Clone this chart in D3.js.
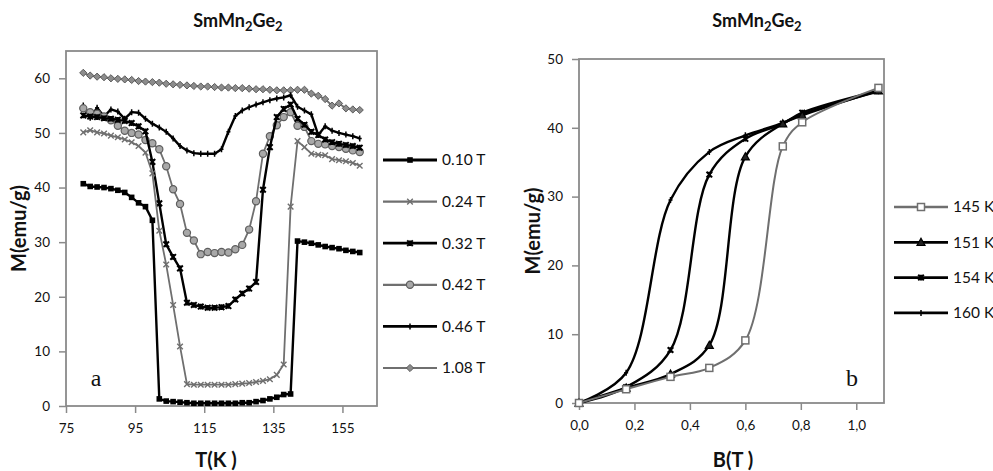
<!DOCTYPE html>
<html>
<head>
<meta charset="utf-8">
<script src="https://cdn.jsdelivr.net/npm/d3@7"></script>
<style>
body { margin: 0; background: #fff; }
svg { font-family: Lato, "Open Sans", sans-serif; }
</style>
</head>
<body>
<svg id="chart" width="993" height="471"></svg>
<script>
'use strict';

// panel a: M(T) at several fields
var temps = [80, 82, 84, 86, 88, 90, 92, 94, 96, 98, 100, 102, 104, 106, 108, 110, 112, 114, 116, 118, 120,
	122, 124, 126, 128, 130, 132, 134, 136, 138, 140, 142, 144, 146, 148, 150, 152, 154, 156, 158, 160];
var m010 = [40.7, 40.2, 40.1, 40.0, 39.8, 39.5, 39.1, 38.2, 37.2, 36.5, 34.0,
	1.3, 0.9, 0.8, 0.7, 0.6, 0.5, 0.5, 0.5, 0.5, 0.5, 0.5, 0.5, 0.6, 0.6, 0.8, 1.0, 1.3, 1.6, 2.1, 2.2,
	30.2, 30.0, 29.8, 29.5, 29.2, 29.0, 28.8, 28.5, 28.3, 28.1];
var m024 = [50.1, 50.5, 50.1, 49.9, 49.5, 49.2, 48.8, 48.3, 47.6, 46.4,
	42.6, 32.1, 25.9, 18.5, 10.9, 4.0,
	3.9, 3.9, 3.9, 3.9, 3.9, 3.9, 4.0, 4.1, 4.2, 4.4, 4.6, 4.9, 5.7, 7.6,
	36.5, 48.5, 47.4, 46.2, 46.0, 45.9, 45.2, 45.0, 44.8, 44.5, 44.0];
var m032 = [53.2, 53.0, 52.9, 52.7, 52.6, 52.4, 52.2, 51.8, 51.2, 50.3,
	44.7, 37.1, 29.6, 27.3, 25.2, 18.9, 18.5, 18.2, 18.0, 18.0, 18.1, 18.3, 19.5, 20.6, 21.5, 22.7,
	39.6, 47.4, 52.9, 54.4, 55.2, 52.6, 51.5, 50.2, 49.6, 48.8, 48.3, 48.0, 47.8, 47.6, 47.3];
var m042 = [54.5, 53.8, 53.5, 53.0, 52.3, 51.3, 50.4, 50.0, 49.7, 48.7,
	48.1, 47.0, 43.9, 39.7, 37.0, 31.7, 30.3, 27.8, 28.2, 28.0, 28.2, 28.1, 28.7, 29.5, 32.3, 37.5,
	46.2, 49.4, 51.4, 52.9, 53.8, 51.3, 51.1, 48.5, 48.0, 47.9, 47.6, 47.4, 47.1, 46.8, 46.5];
var m046 = [55.0, 52.8, 54.6, 53.0, 54.3, 53.9, 52.6, 53.8, 53.7, 52.6,
	51.7, 51.0, 50.2, 49.0, 47.6, 46.8, 46.3, 46.2, 46.2, 46.2, 47.0,
	50.2, 53.1, 54.1, 54.7, 55.2, 55.6, 56.0, 56.3, 56.5, 56.9,
	54.8, 54.1, 53.4, 49.6, 51.2, 50.4, 50.0, 49.7, 49.4, 49.0];
var m108 = [61.0, 60.5, 60.3, 60.2, 60.0, 59.9, 59.8, 59.7, 59.5, 59.4, 59.3, 59.2, 59.0, 58.9, 58.8,
	58.7, 58.6, 58.5, 58.5, 58.4, 58.3, 58.3, 58.2, 58.2, 58.1, 58.0, 58.0, 57.9, 57.8, 57.8,
	57.8, 57.9, 57.9, 57.2, 56.8, 56.2, 55.0, 55.4, 54.5, 54.3, 54.2];
var fieldLabels = ['0.10 T', '0.24 T', '0.32 T', '0.42 T', '0.46 T', '1.08 T'];
var tTicks = [75, 95, 115, 135, 155];
var mTicksA = [0, 10, 20, 30, 40, 50, 60];

// panel b: M(B) isotherms
var fields = [0, 0.17, 0.33, 0.47, 0.60, 0.735, 0.805, 1.08];
var k145 = [0, 2.0, 3.8, 5.1, 9.1, 37.3, 40.8, 45.8];
var k151 = [0, 2.2, 4.2, 8.4, 35.8, 40.6, 41.8, 45.4];
var k154 = [0, 2.3, 7.7, 33.2, 38.4, 40.6, 42.2, 45.4];
var k160 = [0, 4.4, 29.5, 36.5, 38.9, 40.7, 42.0, 45.3];
var tempLabels = ['145 K', '151 K', '154 K', '160 K'];
var bTicks = [0, 0.2, 0.4, 0.6, 0.8, 1.0];
var mTicksB = [0, 10, 20, 30, 40, 50];

var BLACK = '#000', GRAY = '#6f6f6f', FRAME = '#8a8a8a';

var svg = d3.select('#chart');

function marker(g, type, x, y, color)
{
	var s;
	if (type == 'square') {
		g.append('rect').attr('x', x - 2.8).attr('y', y - 2.8).attr('width', 5.6).attr('height', 5.6)
			.attr('fill', color).attr('stroke', 'none');
	} else if (type == 'opensquare') {
		g.append('rect').attr('x', x - 3.5).attr('y', y - 3.5).attr('width', 7).attr('height', 7)
			.attr('fill', '#fff').attr('stroke', color).attr('stroke-width', 1.5);
	} else if (type == 'x' || type == 'star') {
		s = 2.8;
		g.append('path').attr('d', 'M' + (x - s) + ',' + (y - s) + 'L' + (x + s) + ',' + (y + s)
			+ 'M' + (x - s) + ',' + (y + s) + 'L' + (x + s) + ',' + (y - s)
			+ (type == 'star' ? 'M' + x + ',' + (y - s) + 'L' + x + ',' + (y + s) : ''))
			.attr('stroke', color).attr('stroke-width', type == 'star' ? 2 : 1.4).attr('fill', 'none');
	} else if (type == 'plus') {
		g.append('path').attr('d', 'M' + x + ',' + (y - 3) + 'L' + x + ',' + (y + 3)
			+ 'M' + (x - 2) + ',' + y + 'L' + (x + 2) + ',' + y)
			.attr('stroke', color).attr('stroke-width', 1.5);
	} else if (type == 'circle') {
		g.append('circle').attr('cx', x).attr('cy', y).attr('r', 3.6)
			.attr('fill', '#a8a8a8').attr('stroke', '#5e5e5e').attr('stroke-width', 1.2);
	} else if (type == 'diamond') {
		s = 3.6;
		g.append('path').attr('d', 'M' + x + ',' + (y - s) + 'L' + (x + s) + ',' + y + 'L' + x + ',' + (y + s) + 'L' + (x - s) + ',' + y + 'Z')
			.attr('fill', '#8c8c8c').attr('stroke', '#5a5a5a').attr('stroke-width', 1);
	} else if (type == 'triangle') {
		s = 4;
		g.append('path').attr('d', 'M' + x + ',' + (y - s) + 'L' + (x + s) + ',' + (y + s * 0.8) + 'L' + (x - s) + ',' + (y + s * 0.8) + 'Z')
			.attr('fill', '#222').attr('stroke', color).attr('stroke-width', 1.2);
	}
}

function title(cx)
{
	var t = svg.append('text').attr('x', cx).attr('y', 27).attr('text-anchor', 'middle')
		.attr('font-size', 18).attr('font-weight', 'bold').attr('fill', '#111');
	t.append('tspan').text('SmMn');
	t.append('tspan').attr('dy', 4).attr('font-size', 13).text('2');
	t.append('tspan').attr('dy', -4).text('Ge');
	t.append('tspan').attr('dy', 4).attr('font-size', 13).text('2');
}

function panel(p)
{
	var x = d3.scaleLinear().domain(p.xDomain).range([p.left, p.right]);
	var y = d3.scaleLinear().domain(p.yDomain).range([p.bottom, p.top]);
	var g = svg.append('g');

	var xa = g.append('g').attr('transform', 'translate(0,' + p.bottom + ')')
		.call(d3.axisBottom(x).tickValues(p.xTicks).tickSize(7).tickPadding(10).tickFormat(p.xFormat));
	var ya = g.append('g').attr('transform', 'translate(' + p.left + ',0)')
		.call(d3.axisLeft(y).tickValues(p.yTicks).tickSize(7).tickPadding(9).tickFormat(d3.format('d')));
	[xa, ya].forEach(function(a) {
		a.select('.domain').remove();
		a.selectAll('.tick line').attr('stroke', FRAME).attr('stroke-width', 1.5);
		a.selectAll('.tick text').attr('font-size', 13.5).attr('fill', '#111')
			.attr('font-family', 'Lato, "Open Sans", sans-serif');
	});

	g.append('rect').attr('x', p.left).attr('y', p.top)
		.attr('width', p.right - p.left).attr('height', p.bottom - p.top)
		.attr('fill', 'none').attr('stroke', FRAME).attr('stroke-width', 1.8);

	var line = d3.line().x(function(d) { return x(d[0]); }).y(function(d) { return y(d[1]); })
		.curve(p.curve);

	// draw in reverse so the first series ends up on top
	p.series.slice().reverse().forEach(function(s) {
		var pts = p.xs.map(function(v, i) { return [v, s.values[i]]; });
		var sg = g.append('g');
		sg.append('path').attr('d', line(pts)).attr('fill', 'none')
			.attr('stroke', s.color).attr('stroke-width', s.width);
		pts.forEach(function(d) { marker(sg, s.marker, x(d[0]), y(d[1]), s.color); });
	});

	// legend
	p.series.forEach(function(s, i) {
		var ly = p.legY + i * p.legStep;
		var lg = svg.append('g');
		lg.append('line').attr('x1', p.legX).attr('x2', p.legX + 54).attr('y1', ly).attr('y2', ly)
			.attr('stroke', s.color).attr('stroke-width', s.width + 0.4);
		marker(lg, s.marker, p.legX + 27, ly, s.color);
		lg.append('text').attr('x', p.legX + 59).attr('y', ly).attr('dy', '0.35em')
			.attr('font-size', 15.5).attr('fill', '#111').text(p.labels[i]);
	});

	svg.append('text').attr('x', p.xTitleX).attr('y', 467).attr('text-anchor', 'middle')
		.attr('font-size', 20).attr('font-weight', 'bold').attr('fill', '#111').text(p.xTitle);
	svg.append('text').attr('transform', 'translate(' + p.yTitleX + ',' + ((p.top + p.bottom) / 2) + ') rotate(-90)')
		.attr('text-anchor', 'middle').attr('dy', '0.35em').attr('fill', '#111')
		.attr('font-size', 20).attr('font-weight', 'bold').text('M(emu/g)');
	svg.append('text').attr('x', p.tag[0]).attr('y', p.tag[1]).attr('text-anchor', 'middle')
		.attr('font-family', '"Liberation Serif", "DejaVu Serif", serif').attr('font-size', 24)
		.attr('fill', '#111').text(p.tag[2]);
}

title(238);
panel({
	left: 66, right: 377, top: 51, bottom: 406,
	xDomain: [75, 165], yDomain: [0, 65],
	xTicks: tTicks, yTicks: mTicksA, xFormat: d3.format('d'),
	xs: temps, curve: d3.curveLinear,
	series: [
		{ values: m010, color: BLACK, width: 2.4, marker: 'square' },
		{ values: m024, color: GRAY, width: 1.8, marker: 'x' },
		{ values: m032, color: BLACK, width: 2.4, marker: 'star' },
		{ values: m042, color: GRAY, width: 1.8, marker: 'circle' },
		{ values: m046, color: BLACK, width: 2.4, marker: 'plus' },
		{ values: m108, color: GRAY, width: 1.8, marker: 'diamond' }
	],
	labels: fieldLabels, legX: 383, legY: 160, legStep: 41.6,
	xTitle: 'T(K )', xTitleX: 216, yTitleX: 19, tag: [96, 386, 'a']
});

title(757);
panel({
	left: 579, right: 884, top: 59, bottom: 403,
	xDomain: [0, 1.1], yDomain: [0, 50],
	xTicks: bTicks, yTicks: mTicksB, xFormat: function(d) { return d3.format('.1f')(d).replace('.', ','); },
	xs: fields, curve: d3.curveCatmullRom.alpha(0.5),
	series: [
		{ values: k145, color: GRAY, width: 2, marker: 'opensquare' },
		{ values: k151, color: BLACK, width: 2.4, marker: 'triangle' },
		{ values: k154, color: BLACK, width: 2.4, marker: 'star' },
		{ values: k160, color: BLACK, width: 2.4, marker: 'plus' }
	],
	labels: tempLabels, legX: 894, legY: 207, legStep: 35.3,
	xTitle: 'B(T )', xTitleX: 733, yTitleX: 533, tag: [852, 386, 'b']
});
</script>
</body>
</html>
